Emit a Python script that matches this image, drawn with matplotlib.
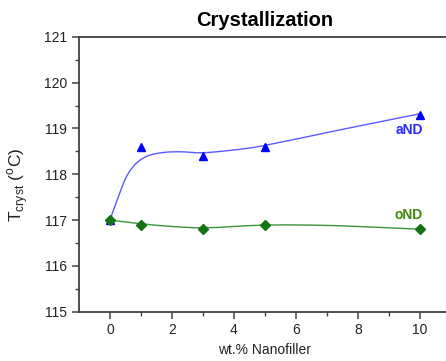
import numpy as np
import matplotlib
matplotlib.use("Agg")
import matplotlib.pyplot as plt
from matplotlib.path import Path
from matplotlib.patches import PathPatch

plt.rcParams['font.family'] = ['Liberation Sans', 'DejaVu Sans']

# measured points
loading = [0, 1, 3, 5, 10]
t_and = [117.0, 118.6, 118.4, 118.6, 119.3]
t_ond = [117.0, 116.9, 116.8, 116.9, 116.8]

# smooth fit lines
fit_and_x = [0, 0.25, 0.55, 0.9, 1.3, 1.8, 2.3, 3.0, 4.0, 5.0, 7.5, 10.0]
fit_and_y = [117.0, 117.47, 117.97, 118.27, 118.42, 118.48, 118.49, 118.47, 118.53, 118.63, 118.98, 119.32]
fit_ond_x = [0, 1, 2, 3, 4, 5, 6.5, 8, 10]
fit_ond_y = [117.0, 116.92, 116.86, 116.83, 116.86, 116.89, 116.89, 116.86, 116.8]


def smooth_path(xs, ys):
    # Catmull-Rom through the read points, drawn as cubic Bezier segments
    pts = np.column_stack([xs, ys])
    verts = [pts[0]]
    codes = [Path.MOVETO]
    n = len(pts)
    for i in range(n - 1):
        p0 = pts[max(i - 1, 0)]
        p1 = pts[i]
        p2 = pts[i + 1]
        p3 = pts[min(i + 2, n - 1)]
        c1 = p1 + (p2 - p0) / 6.0
        c2 = p2 - (p3 - p1) / 6.0
        verts += [c1, c2, p2]
        codes += [Path.CURVE4] * 3
    return Path(verts, codes)


fig = plt.figure(figsize=(4.46, 3.61), dpi=100)
ax = fig.add_axes([0.177, 0.1366, 1.011 - 0.177, 0.898 - 0.1366])

ax.add_patch(PathPatch(smooth_path(fit_and_x, fit_and_y), fill=False,
                       edgecolor='#5a5aff', linewidth=1.0))
ax.add_patch(PathPatch(smooth_path(fit_ond_x, fit_ond_y), fill=False,
                       edgecolor='#3a963a', linewidth=1.0))

ax.plot(loading, t_and, linestyle='none', marker='^', markersize=6,
        color='#0000ff')
ax.plot(loading, t_ond, linestyle='none', marker='D', markersize=5,
        color='#137313')

ax.text(10.1, 118.97, 'aND', color='#2a2aff', fontsize=10, fontweight='bold',
        ha='right', va='center')
ax.text(10.1, 117.12, 'oND', color='#3f8a0a', fontsize=10, fontweight='bold',
        ha='right', va='center')

ax.set_xlim(-1, 11)
ax.set_ylim(115, 121)
ax.set_xticks([0, 2, 4, 6, 8, 10])
ax.set_xticks([1, 3, 5, 7, 9], minor=True)
ax.set_yticks([115, 116, 117, 118, 119, 120, 121])
ax.set_yticks(np.arange(115.5, 121, 1.0), minor=True)

for s in ax.spines.values():
    s.set_color('#404040')
    s.set_linewidth(1.3)

ax.tick_params(which='major', direction='out', length=5, width=1.1,
               colors='#404040', labelsize=10, labelcolor='#222222')
ax.tick_params(which='minor', direction='out', length=3, width=1.0,
               colors='#404040')

ax.set_title('Crystallization', fontsize=14.5, fontweight='bold', pad=8)
ax.set_xlabel('wt.% Nanofiller', fontsize=10, color='#222222', labelpad=4)
ax.set_ylabel(r'T$_{\mathregular{cryst}}$ ($^{\mathregular{o}}$C)', fontsize=12.5,
              color='#222222')
ax.yaxis.set_label_coords(-0.128, 0.46)

fig.savefig('out.png', dpi=100, facecolor='white')
